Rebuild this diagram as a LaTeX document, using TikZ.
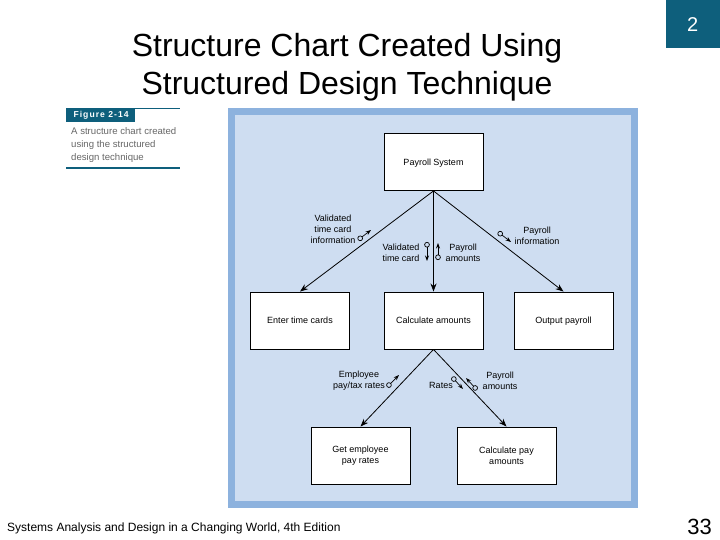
\documentclass[tikz,border=0pt]{standalone}
\usepackage{fontspec}
\setmainfont{Liberation Sans}
\usetikzlibrary{arrows.meta,positioning}

\definecolor{slideteal}{HTML}{0E5F7C}
\definecolor{framebg}{HTML}{CEDDF1}
\definecolor{frameedge}{HTML}{8DB2DE}
\definecolor{capgray}{HTML}{666666}

\tikzset{
  module/.style={draw=black, line width=0.9pt, fill=white, minimum width=99pt, minimum height=57pt,
    inner sep=2pt, align=center, font=\fontsize{9}{11}\selectfont},
  call/.style={-{Stealth[length=8pt,width=6pt]}, line width=0.8pt},
  couple/.style={{Circle[open,length=5.5pt,width=5.5pt]}-{Stealth[length=5.5pt,width=4pt]}, line width=0.7pt},
  flowtext/.style={align=center, inner sep=0pt, font=\fontsize{9}{10.8}\selectfont},
}

\begin{document}
\begin{tikzpicture}[x=1pt, y=-1pt]
  \useasboundingbox (0,0) rectangle (720,540);

  % slide heading
  \node[anchor=base, font=\fontsize{32}{38}\selectfont] (head1) at (347,57) {Structure Chart Created Using};
  \node[anchor=base, font=\fontsize{32}{38}\selectfont] (head2) at (347,95) {Structured Design Technique};
  \node[fill=slideteal, text=white, anchor=north east, minimum width=54pt, minimum height=48pt,
    font=\fontsize{20}{24}\selectfont] (chapno) at (720,0) {2};

  % figure caption
  \fill[slideteal] (66,108) rectangle (135,122);
  \draw[slideteal, line width=0.8pt] (66,108.5) -- (180,108.5);
  \node[anchor=west, text=white, font=\bfseries\fontsize{8.6}{9}\selectfont\addfontfeature{LetterSpace=12}]
    (figtag) at (70,115.5) {Figure 2-14};
  \node[anchor=north west, align=left, inner sep=0pt, text=capgray, font=\fontsize{9.6}{13}\selectfont]
    (figtext) at (71,127.5) {A structure chart created\\using the structured\\design technique};
  \draw[slideteal, line width=1.5pt] (66,168) -- (180,168);

  % figure frame
  \fill[frameedge] (228,108) rectangle (638,508);
  \fill[framebg] (235,115) rectangle (631,501);

  % modules
  \node[module, text depth=0pt] (sys) at (433.5,162) {Payroll System};
  \node[module] (enter) at (300,320.5) {Enter time cards};
  \node[module] (calc) at (433.5,320.5) {Calculate amounts};
  \node[module, text depth=0pt] (out) at (563.5,320.5) {Output payroll};
  \node[module] (getrate) at (360.5,455.5) {Get employee\\pay rates};
  \node[module] (calcpay) at (506.5,455.5) {Calculate pay\\amounts};

  % calls
  \draw[call] (sys.south) -- (enter.north);
  \draw[call] (sys.south) -- (calc.north);
  \draw[call] (sys.south) -- (out.north);
  \draw[call] (calc.south) -- (getrate.north);
  \draw[call] (calc.south) -- (calcpay.north);

  % data couples
  \coordinate (c1a) at (358,240); \coordinate (c1b) at (371,230);
  \coordinate (c2a) at (427,242); \coordinate (c2b) at (427,261);
  \coordinate (c3a) at (438,260); \coordinate (c3b) at (438,243);
  \coordinate (c4a) at (498,232); \coordinate (c4b) at (511,242);
  \coordinate (c5a) at (387,387); \coordinate (c5b) at (399,375);
  \coordinate (c6a) at (452,377); \coordinate (c6b) at (463,389);
  \coordinate (c7a) at (477,390); \coordinate (c7b) at (466,378);
  \foreach \c in {c1,c2,c3,c4,c5,c6,c7}
    \draw[couple] (\c a) -- (\c b);

  \node[flowtext] (lab1) at (333,229) {Validated\\time card\\information};
  \node[flowtext] (lab2) at (401,252.5) {Validated\\time card};
  \node[flowtext] (lab3) at (463,252.5) {Payroll\\amounts};
  \node[flowtext] (lab4) at (537,235.5) {Payroll\\information};
  \node[flowtext] (lab5) at (359,380.5) {Employee\\pay/tax rates};
  \node[flowtext] (lab6) at (441,385) {Rates};
  \node[flowtext] (lab7) at (500,380.5) {Payroll\\amounts};

  % footer
  \node[anchor=base west, inner sep=0pt, font=\fontsize{12}{14}\selectfont] (book) at (7,531)
    {Systems Analysis and Design in a Changing World, 4th Edition};
  \node[anchor=base east, inner sep=0pt, font=\fontsize{22}{26}\selectfont] (pageno) at (712,534) {33};
\end{tikzpicture}
\end{document}
